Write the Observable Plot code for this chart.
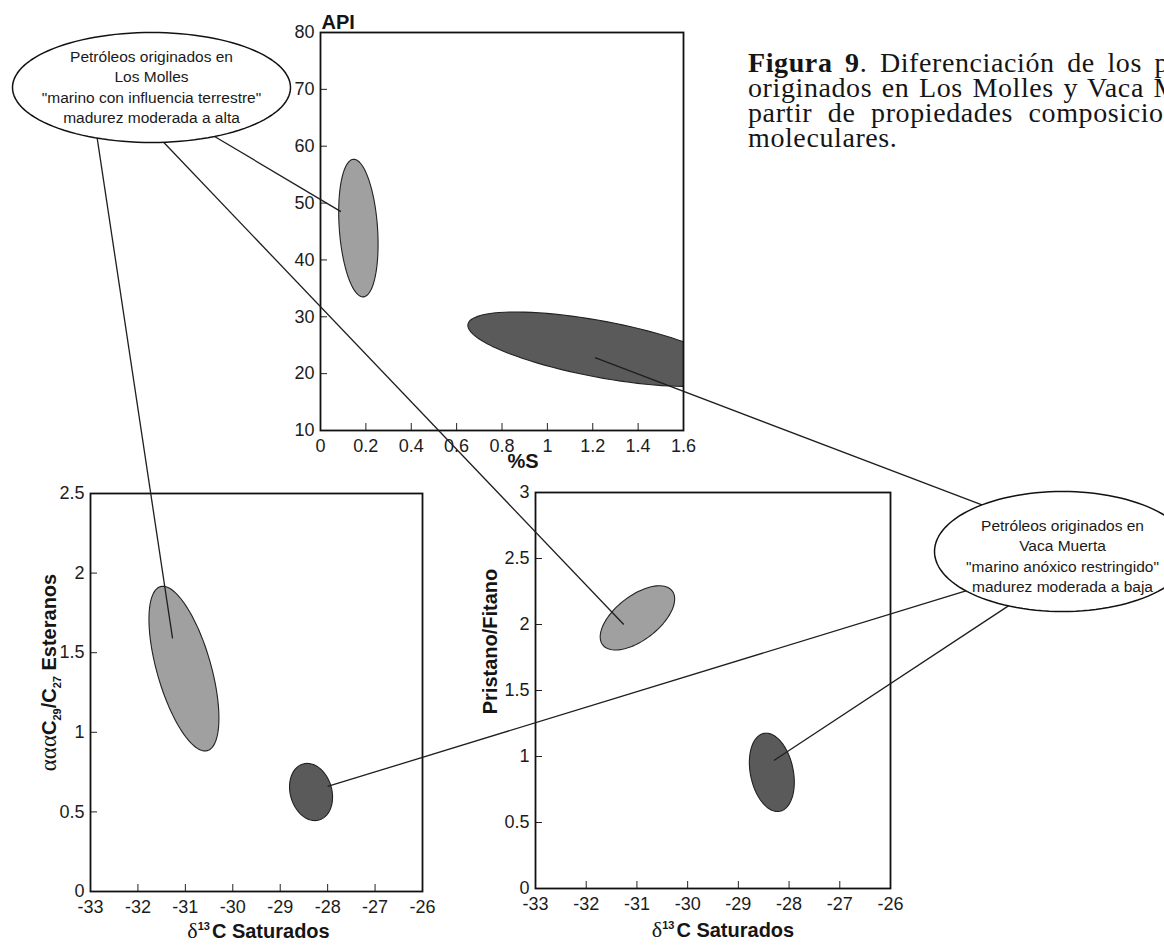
<!DOCTYPE html>
<html><head><meta charset="utf-8">
<script src="https://cdn.jsdelivr.net/npm/d3@7"></script>
<script src="https://cdn.jsdelivr.net/npm/@observablehq/plot@0.6"></script>
<style>
html,body{margin:0;padding:0;background:#fff;overflow:hidden}
#page{position:relative;width:1164px;height:945px;overflow:hidden;background:#fff}
#page > svg{position:absolute;overflow:visible}
#caption{position:absolute;left:748px;top:50px;font-family:"Liberation Serif","Times New Roman",serif;font-size:28px;letter-spacing:0.6px;white-space:nowrap;color:#151515;line-height:25px}
#caption span{display:block}
</style></head><body><div id="page"></div>
<script>
// ---------------- data ----------------
const families = ["Los Molles", "Vaca Muerta"];
// tick values
const sTicks = [0, 0.2, 0.4, 0.6, 0.8, 1, 1.2, 1.4, 1.6];
const apiTicks = [10, 20, 30, 40, 50, 60, 70, 80];
const d13cTicks = [-33, -32, -31, -30, -29, -28, -27, -26];
const steraneTicks = [0, 0.5, 1, 1.5, 2, 2.5];
const prPhTicks = [0, 0.5, 1, 1.5, 2, 2.5, 3];
// field ellipses: centre and conjugate semi-axes, in data units
const apiVsS = [
  {family: "Los Molles",  cx: 0.167, cy: 45.6, ax: -0.022, ay: 12.1, bx: 0.084, by: 0.25},
  {family: "Vaca Muerta", cx: 1.234, cy: 24.3, ax: 0.584,  ay: -4.4, bx: -0.025, by: -4.85}
];
const steranesVsD13C = [
  {family: "Los Molles",  cx: -31.03, cy: 1.40, ax: 0.495, ay: -0.515, bx: 0.547, by: 0.047},
  {family: "Vaca Muerta", cx: -28.35, cy: 0.625, ax: 0.169, ay: -0.176, bx: 0.421, by: 0.036}
];
const prPhVsD13C = [
  {family: "Los Molles",  cx: -30.99, cy: 2.05, ax: 0.684, ay: 0.205, bx: 0.267, by: -0.131},
  {family: "Vaca Muerta", cx: -28.34, cy: 0.88, ax: 0.158, ay: -0.295, bx: 0.414, by: 0.0325}
];
// where the callout lines land in each panel (data units)
const targetsLosMolles = [
  {panel: "top", x: 0.09, y: 48.5},
  {panel: "left", x: -31.27, y: 1.59},
  {panel: "right", x: -31.26, y: 2.0}
];
const targetsVacaMuerta = [
  {panel: "top", x: 1.21, y: 22.8},
  {panel: "left", x: -28.0, y: 0.66},
  {panel: "right", x: -28.3, y: 0.97}
];
const calloutLosMolles = ["Petróleos originados en", "Los Molles", "\"marino con influencia terrestre\"", "madurez moderada a alta"];
const calloutVacaMuerta = ["Petróleos originados en", "Vaca Muerta", "\"marino anóxico restringido\"", "madurez moderada a baja"];
const captionLines = [
  "<b>Figura 9</b>. Diferenciación de los petróleos",
  "originados en Los Molles y Vaca Muerta a",
  "partir de propiedades composicionales y",
  "moleculares."
];

(function () {
// ---------------- styling / layout ----------------
const FONT = '"Liberation Sans Narrow","Arial Narrow","Liberation Sans",Arial,sans-serif';
const fillOf = {"Los Molles": "#a0a0a0", "Vaca Muerta": "#5a5a5a"};
const page = document.getElementById("page");

function outline(e) {
  const pts = [];
  for (let i = 0; i <= 96; i++) {
    const t = (i / 96) * 2 * Math.PI;
    pts.push({x: e.cx + e.ax * Math.cos(t) + e.bx * Math.sin(t), y: e.cy + e.ay * Math.cos(t) + e.by * Math.sin(t)});
  }
  return pts;
}

function panel({frame, xDomain, yDomain, xTicks, yTicks, ellipses, xLabel, yLabel}) {
  const [L, T, R, B] = frame;
  const mL = 70, mR = 30, mT = 30, mB = 60;
  const fw = R - L, fh = B - T;
  const fmt = d => String(d);
  const marks = [];
  for (const e of ellipses) {
    marks.push(Plot.line(outline(e), {x: "x", y: "y", fill: fillOf[e.family], stroke: "#222", strokeWidth: 1.1, clip: true}));
  }
  marks.push(Plot.tickX(xTicks.slice(1, -1), {x: d => d, insetTop: fh - 7, stroke: "#222", strokeWidth: 1}));
  marks.push(Plot.tickY(yTicks.slice(1, -1), {y: d => d, insetRight: fw - 7, stroke: "#222", strokeWidth: 1}));
  marks.push(Plot.frame({stroke: "#111", strokeWidth: 1.8}));
  marks.push(...xLabel, ...yLabel);
  const plot = Plot.plot({
    width: fw + mL + mR, height: fh + mT + mB,
    marginLeft: mL, marginRight: mR, marginTop: mT, marginBottom: mB,
    style: {background: "transparent", fontFamily: FONT, fontSize: "18px", color: "#1c1c1c", overflow: "visible"},
    x: {domain: xDomain, ticks: xTicks, tickSize: 0, tickPadding: 9, tickFormat: fmt, label: null},
    y: {domain: yDomain, ticks: yTicks, tickSize: 0, tickPadding: 6, tickFormat: fmt, label: null},
    marks
  });
  plot.style.left = (L - mL) + "px";
  plot.style.top = (T - mT) + "px";
  page.appendChild(plot);
  const sx = plot.scale("x"), sy = plot.scale("y");
  const fx = sx.apply ? v => sx.apply(v) : d3.scaleLinear(sx.domain, sx.range);
  const fy = sy.apply ? v => sy.apply(v) : d3.scaleLinear(sy.domain, sy.range);
  return {plot, px: v => fx(v) + L - mL, py: v => fy(v) + T - mT};
}

const bold = {fontWeight: "bold", fontSize: 20, fill: "#151515"};
const topP = panel({
  frame: [320, 32, 683, 430], xDomain: [0, 1.6], yDomain: [10, 80], xTicks: sTicks, yTicks: apiTicks,
  ellipses: apiVsS,
  xLabel: [Plot.text(["%S"], {frameAnchor: "bottom", dx: 21, dy: 37, ...bold})],
  yLabel: [Plot.text(["API"], {frameAnchor: "top-left", textAnchor: "start", dx: 1, dy: -18, ...bold})]
});
const leftP = panel({
  frame: [90, 493, 422, 891], xDomain: [-33, -26], yDomain: [0, 2.5], xTicks: d13cTicks, yTicks: steraneTicks,
  ellipses: steranesVsD13C,
  xLabel: [Plot.text(["δ13C Saturados"], {frameAnchor: "bottom", dx: 2, dy: 46, ...bold})],
  yLabel: [Plot.text(["αααC29/C27 Esteranos"], {frameAnchor: "left", textAnchor: "middle", dx: -41, dy: -20, rotate: -90, ...bold})]
});
const rightP = panel({
  frame: [535, 492, 890, 888], xDomain: [-33, -26], yDomain: [0, 3], xTicks: d13cTicks, yTicks: prPhTicks,
  ellipses: prPhVsD13C,
  xLabel: [Plot.text(["δ13C Saturados"], {frameAnchor: "bottom", dx: 10, dy: 48, ...bold})],
  yLabel: [Plot.text(["Pristano/Fitano"], {frameAnchor: "left", textAnchor: "middle", dx: -45, dy: -49, rotate: -90, ...bold})]
});
const panels = {top: topP, left: leftP, right: rightP};

// rich text for axis titles (subscripts / superscripts / serif Greek)
function rich(svg, plain, parts) {
  svg.querySelectorAll("text").forEach(t => {
    if (t.textContent !== plain) return;
    t.textContent = "";
    for (const p of parts) {
      const ts = document.createElementNS("http://www.w3.org/2000/svg", "tspan");
      ts.textContent = p.t;
      for (const k in p.a || {}) ts.setAttribute(k, p.a[k]);
      t.appendChild(ts);
    }
  });
}
const serif = {"font-family": '"Liberation Serif","Times New Roman",serif', "font-weight": "normal", "font-size": 22};
for (const p of [leftP, rightP]) {
  rich(p.plot, "δ13C Saturados", [
    {t: "δ", a: serif},
    {t: "13", a: {"font-size": 11, dy: -8}},
    {t: "C Saturados", a: {dy: 8, dx: 2}}
  ]);
}
rich(leftP.plot, "αααC29/C27 Esteranos", [
  {t: "ααα", a: {...serif, "font-size": 23}},
  {t: "C", a: {}},
  {t: "29", a: {"font-size": 11, dy: 5}},
  {t: "/C", a: {dy: -5}},
  {t: "27", a: {"font-size": 11, dy: 5}},
  {t: " Esteranos", a: {dy: -5}}
]);

// ---------------- callouts & connectors (overlay) ----------------
const callouts = [
  {name: "Los Molles", cx: 151, cy: 87, rx: 139, ry: 55, dy: 0, lines: calloutLosMolles, targets: targetsLosMolles, angles: [63, 113, 85]},
  {name: "Vaca Muerta", cx: 1062, cy: 551, rx: 128, ry: 60, dy: 5, lines: calloutVacaMuerta, targets: targetsVacaMuerta, angles: [-129, 139, 115]}
];
const links = [], rings = [], labels = [];
for (const c of callouts) {
  c.targets.forEach((tg, i) => {
    const a = c.angles[i] * Math.PI / 180;
    const p = panels[tg.panel];
    links.push({x1: c.cx + c.rx * Math.cos(a), y1: c.cy + c.ry * Math.sin(a), x2: p.px(tg.x), y2: p.py(tg.y)});
  });
  for (let i = 0; i <= 120; i++) {
    const t = (i / 120) * 2 * Math.PI;
    rings.push({name: c.name, x: c.cx + c.rx * Math.cos(t), y: c.cy + c.ry * Math.sin(t)});
  }
  c.lines.forEach((s, i) => labels.push({x: c.cx, y: c.cy + c.dy + (i - 1.5) * 20.3, text: s}));
}
const overlay = Plot.plot({
  width: 1164, height: 945, margin: 0,
  x: {type: "identity", axis: null}, y: {type: "identity", axis: null},
  style: {background: "transparent", fontFamily: FONT, overflow: "visible"},
  marks: [
    Plot.link(links, {x1: "x1", y1: "y1", x2: "x2", y2: "y2", stroke: "#1e1e1e", strokeWidth: 1.3}),
    Plot.line(rings, {x: "x", y: "y", z: "name", fill: "white", stroke: "#111", strokeWidth: 1.5}),
    Plot.text(labels, {x: "x", y: "y", text: "text", fontSize: 15.5, fill: "#1a1a1a"})
  ]
});
overlay.style.left = "0px"; overlay.style.top = "0px";
page.appendChild(overlay);

// ---------------- caption ----------------
const wordSpacing = [5, 2, 8, 0];
const cap = document.createElement("div");
cap.id = "caption";
cap.innerHTML = captionLines.map((h, i) => `<span style="word-spacing:${wordSpacing[i]}px">${h}</span>`).join("");
page.appendChild(cap);
})();
</script></body></html>
